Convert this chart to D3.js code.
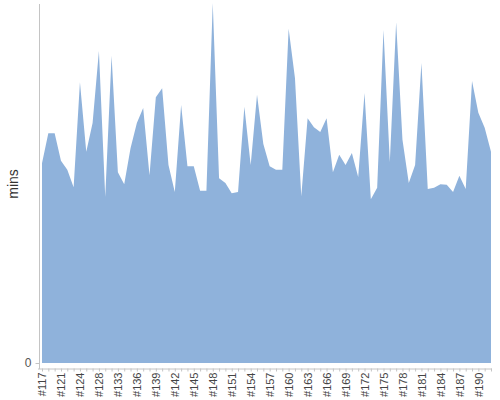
<!DOCTYPE html>
<html>
<head>
<meta charset="utf-8">
<script src="https://cdn.jsdelivr.net/npm/d3@7/dist/d3.min.js"></script>
<style>
  html, body { margin: 0; padding: 0; background: #fff; }
  svg { display: block; font-family: "Liberation Sans", Arial, sans-serif; }
</style>
</head>
<body>
<svg id="chart" width="500" height="400"></svg>
<script>
const categories = [
  "#117","#118","#119","#121","#122","#123","#124","#125","#126","#128",
  "#129","#131","#133","#134","#135","#136","#137","#138","#139","#140",
  "#141","#142","#143","#144","#145","#146","#147","#148","#149","#150",
  "#151","#152","#153","#154","#155","#156","#157","#158","#159","#160",
  "#161","#162","#163","#164","#165","#166","#167","#168","#169","#170",
  "#171","#172","#173","#174","#175","#176","#177","#178","#179","#180",
  "#181","#182","#183","#184","#185","#186","#187","#188","#189","#190",
  "#191","#192"
];
const minsValues = [
  33.3,38.3,38.3,33.7,32.2,29.3,46.8,35.2,40.0,52.0,
  27.7,51.2,31.8,29.8,35.8,40.0,42.5,31.3,44.3,45.8,
  33.0,28.5,43.0,32.8,32.8,28.7,28.7,60.0,30.8,30.0,
  28.3,28.5,42.7,33.0,44.7,36.5,32.8,32.2,32.2,55.7,
  47.5,27.8,40.8,39.3,38.5,40.8,31.8,34.7,33.0,35.0,
  31.0,45.0,27.3,29.2,55.5,33.5,56.8,37.2,30.0,33.0,
  50.0,29.0,29.2,29.8,29.7,28.5,31.2,29.0,47.0,41.7,
  39.2,35.2
];
const tickLabels = [
  "#117","#121","#124","#128","#133","#136","#139","#142","#145","#148",
  "#151","#154","#157","#160","#163","#166","#169","#172","#175","#178",
  "#181","#184","#187","#190"
];
const yTickValues = [0];
const yLabel = "mins";

const svg = d3.select("#chart");
const data = categories.map((c, i) => ({ c, v: minsValues[i] }));

const x = d3.scalePoint().domain(categories).range([42, 491]);
const y = d3.scaleLinear().domain([0, d3.max(minsValues)]).range([363, 3]);

// area
svg.append("path")
  .datum(data)
  .attr("fill", "#8fb2db")
  .attr("d", d3.area()
    .x(d => x(d.c))
    .y0(y(0))
    .y1(d => y(d.v)));

// x axis
const labelSet = new Set(tickLabels);
const xAxis = svg.append("g")
  .attr("transform", "translate(0,368.5)")
  .call(d3.axisBottom(x).tickSizeOuter(0).tickSize(3)
    .tickFormat(d => labelSet.has(d) ? d : ""));
xAxis.select(".domain").attr("stroke", "#c4c4c4").attr("d", "M38,0.5H492");
xAxis.selectAll(".tick line").attr("stroke", "#c4c4c4");
xAxis.selectAll(".tick text")
  .attr("fill", "#444")
  .attr("font-size", 11)
  .attr("text-anchor", "end")
  .attr("transform", "rotate(-90)")
  .attr("x", -4)
  .attr("y", 0)
  .attr("dy", "0.35em");

// y axis
const yAxis = svg.append("g")
  .attr("transform", "translate(39.5,0)")
  .call(d3.axisLeft(y).tickValues(yTickValues).tickSize(4).tickSizeOuter(0));
yAxis.select(".domain").attr("stroke", "#c4c4c4").attr("d", "M0,4V369");
yAxis.selectAll(".tick line").attr("stroke", "#c4c4c4");
yAxis.selectAll(".tick text").attr("fill", "#555").attr("font-size", 12).attr("x", -8);

// y label
svg.append("text")
  .attr("transform", "translate(18,184) rotate(-90)")
  .attr("text-anchor", "middle")
  .attr("font-size", 14)
  .attr("fill", "#333")
  .text(yLabel);
</script>
</body>
</html>
